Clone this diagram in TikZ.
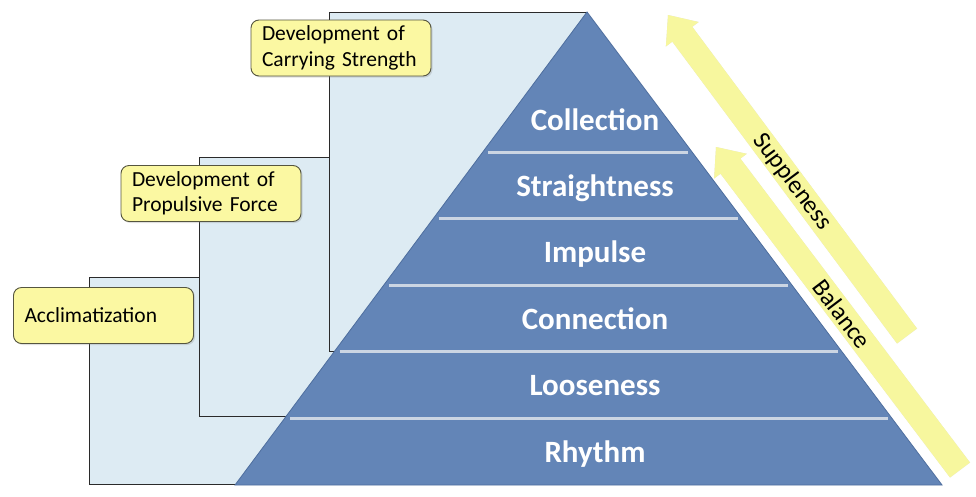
\documentclass[tikz,border=0pt]{standalone}
\usepackage{fontspec}
\setmainfont{Carlito}
\usetikzlibrary{shadows}
\definecolor{pyr}{HTML}{6385B7}
\definecolor{pyredge}{HTML}{4E6E9E}
\definecolor{sep}{HTML}{CBD5E3}
\definecolor{stepfill}{HTML}{DDEBF3}
\definecolor{stepedge}{HTML}{2A2A2A}
\definecolor{lblfill}{HTML}{FBF8A2}
\definecolor{lbledge}{HTML}{55553F}
\definecolor{arrfill}{HTML}{F7F79E}
\tikzset{
 stepbox/.style={fill=stepfill, draw=stepedge, line width=1pt},
 lbl/.style={rounded corners=8pt, fill=lblfill, draw=lbledge, line width=0.9pt, align=left,
   text width=158pt, inner xsep=11pt, minimum height=56pt,
   font=\fontsize{21.5}{25.5}\selectfont,
   drop shadow={opacity=0.25, shadow xshift=1.5pt, shadow yshift=-1.5pt}},
 layer/.style={text=white, font=\bfseries\fontsize{31}{31}\selectfont, anchor=base},
 sepline/.style={draw=sep, line width=3pt},
 arrtext/.style={font=\fontsize{25}{25}\selectfont, sloped},
 arrbody/.style={fill=arrfill},
 arrshadow/.style={fill=black, opacity=0.12, shift={(1.5,1.5)}},
}
\begin{document}
\begin{tikzpicture}[x=1pt,y=-1pt]
\useasboundingbox (0,0) rectangle (976,496);
\fill[white] (0,0) rectangle (976,496);

% step rectangles
\draw[stepbox] (89,277) rectangle (300,484);
\draw[stepbox] (199,157) rectangle (460,416);
\draw[stepbox] (329,12) rectangle (587,351);

% pyramid
\coordinate (apex) at (587,12);
\coordinate (bl) at (235,485);
\coordinate (br) at (942,485);
\filldraw[fill=pyr, draw=pyredge, line width=0.8pt] (apex) -- (br) -- (bl) -- cycle;

% separators
\draw[sepline] (488,152) -- (688,152);
\draw[sepline] (438.5,218.5) -- (738,218.5);
\draw[sepline] (389,285) -- (788,285);
\draw[sepline] (339.5,351.5) -- (838,351.5);
\draw[sepline] (290,418) -- (888,418);

% layer texts
\node[layer] (collection) at (595,130) {Collection};
\node[layer] (straight) at (595,196) {Straightness};
\node[layer] (impulse) at (595,262.5) {Impulse};
\node[layer] (connection) at (595,329) {Connection};
\node[layer] (looseness) at (595,395.5) {Looseness};
\node[layer] (rhythm) at (595,462) {Rhythm};

% labels
\node[lbl] (carry) at (341,48) {Development of\\Carrying Strength};
\node[lbl] (prop) at (211,193.5) {Development of\\Propulsive Force};
\node[lbl] (accl) at (103.5,315.5) {Acclimatization};

% arrows: Suppleness
\coordinate (suppT) at (668,15);
\coordinate (suppE) at (907,336);
\coordinate (sH1) at (698.7,22.0);
\coordinate (sS1) at (692.3,26.8);
\coordinate (sE1) at (917.0,328.5);
\coordinate (sE2) at (897.0,343.5);
\coordinate (sS2) at (672.3,41.7);
\coordinate (sH2) at (665.9,46.5);
\foreach \st in {arrshadow,arrbody}
  \path[\st] (suppT) -- (sH1) -- (sS1) -- (sE1) -- (sE2) -- (sS2) -- (sH2) -- cycle;
% arrows: Balance
\coordinate (balT) at (716,147);
\coordinate (balE) at (960,470);
\coordinate (bH1) at (746.8,153.8);
\coordinate (bS1) at (740.4,158.6);
\coordinate (bE1) at (970.0,462.5);
\coordinate (bE2) at (950.0,477.5);
\coordinate (bS2) at (720.5,173.7);
\coordinate (bH2) at (714.1,178.5);
\foreach \st in {arrshadow,arrbody}
  \path[\st] (balT) -- (bH1) -- (bS1) -- (bE1) -- (bE2) -- (bS2) -- (bH2) -- cycle;

\path (suppT) -- (suppE) node[arrtext, pos=0.52] (supp) {Suppleness};
\path (balT) -- (balE) node[arrtext, pos=0.517] (bal) {Balance};
\end{tikzpicture}
\end{document}
